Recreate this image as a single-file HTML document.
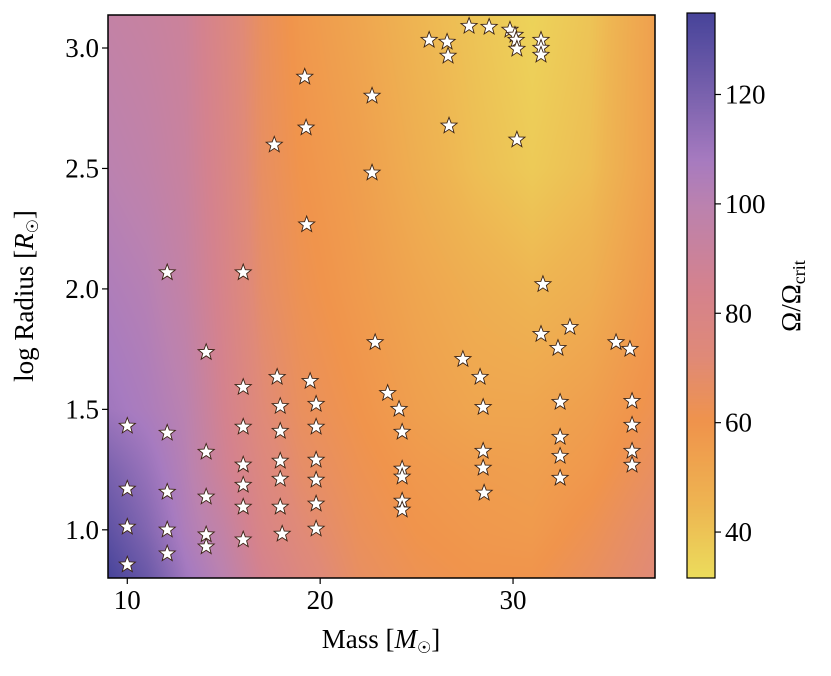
<!DOCTYPE html>
<html><head><meta charset="utf-8"><style>
html,body{margin:0;padding:0;background:#fff;width:831px;height:676px;overflow:hidden}
#wrap{position:relative;width:831px;height:676px}
canvas{position:absolute}
svg{position:absolute;left:0;top:0}
text{font-family:"Liberation Serif",serif;fill:#000}
</style></head><body>
<div id="wrap">
<canvas id="bg" width="547" height="563" style="left:108px;top:15px"></canvas>
<canvas id="cb" width="28" height="565" style="left:687px;top:13px"></canvas>
<svg id="svg" width="831" height="676"></svg>
</div>
<script>
// ---- data ----
const gridMass = [9, 11, 13, 15, 17, 19, 22, 25, 28, 31, 34, 37.4];
const gridLogR = [0.8, 1.0, 1.25, 1.5, 2.0, 2.5, 3.14];
// rows correspond to gridLogR, columns to gridMass
const gridOmega = [
 [135,125,110,100,85,76,66,62,60,60,65,72],
 [128,118,105, 95,80,72,64,60,58,57,62,70],
 [120,112,102, 88,76,68,62,58,56,55,58,66],
 [110,106,100, 85,72,65,60,55,52,52,55,62],
 [105,102, 95, 82,68,62,57,52,48,45,48,58],
 [100, 97, 92, 80,66,60,55,48,42,38,42,55],
 [ 95, 93, 90, 78,65,58,52,45,40,35,40,55]
];
const starMass = [10,10,10,10, 12.07,12.07,12.07,12.07,12.07, 14.09,14.09,14.09,14.09,14.09,
 16.01,16.01,16.01,16.01,16.01,16.01,16.01, 18.03,17.93,17.93,17.93,17.93,17.93,17.77,17.62,19.2,19.27,19.3,
 19.79,19.79,19.79,19.79,19.79,19.79,19.48, 22.69,22.69,22.85,23.5,24.09,24.25,24.25,24.25,24.25,24.25,
 25.65,26.58,26.63,26.68,27.4,27.72,28.29,28.45,28.45,28.45,28.5,28.76,29.84,30.1,30.16,30.2,30.2,
 31.45,31.45,31.45,31.55,31.45,32.33,32.95,32.44,32.44,32.44,32.44,35.34,36.06,36.17,36.17,36.17,36.17];
const starLogR = [0.855,1.012,1.17,1.431, 0.901,1.0,1.157,1.402,2.068, 0.93,0.98,1.137,1.323,1.737,
 0.959,1.095,1.186,1.27,1.427,1.592,2.068, 0.983,1.095,1.211,1.286,1.41,1.513,1.634,2.598,2.88,2.669,2.267,
 1.004,1.108,1.207,1.29,1.427,1.522,1.617, 2.801,2.482,1.778,1.567,1.501,1.406,1.253,1.22,1.12,1.083,
 3.033,3.025,2.967,2.677,1.708,3.091,1.634,1.509,1.327,1.257,1.153,3.087,3.075,3.054,3.033,2.996,2.619,
 3.033,3.0,2.971,2.019,1.812,1.754,1.841,1.53,1.385,1.306,1.215,1.778,1.75,1.534,1.435,1.327,1.269];
const xTicks = [10, 20, 30];
const yTicks = [1.0, 1.5, 2.0, 2.5, 3.0];
const cbTicks = [40, 60, 80, 100, 120];

// ---- scales ----
const X0=108, X1=655, Y0=15, Y1=578;
const xMin=9.0, xMax=37.36, yMin=0.8, yMax=3.137;
const cbMin=31.6, cbMax=134.9, CB0=13, CB1=578, CBX=687, CBW=28;
const xs = m => X0 + (m-xMin)/(xMax-xMin)*(X1-X0);
const ys = r => Y1 - (r-yMin)/(yMax-yMin)*(Y1-Y0);
const cbs = v => CB1 - (v-cbMin)/(cbMax-cbMin)*(CB1-CB0);

const cmapStops = [[32,[236,220,92]],[45,[238,181,82]],[60,[240,148,76]],[72,[224,138,120]],[85,[212,130,143]],[100,[187,130,176]],[108,[167,123,192]],[120,[122,98,174]],[135,[71,68,154]]];
function cmap(v){
  if(v<=cmapStops[0][0]) return cmapStops[0][1];
  for(let i=1;i<cmapStops.length;i++){
    if(v<=cmapStops[i][0]){const a=cmapStops[i-1],b=cmapStops[i];const t=(v-a[0])/(b[0]-a[0]);
      return a[1].map((c,k)=>c+(b[1][k]-c)*t);}
  }
  return cmapStops[cmapStops.length-1][1];
}
function seg(arr,v){let i=0;while(i<arr.length-2&&v>arr[i+1])i++;let t=(v-arr[i])/(arr[i+1]-arr[i]);t=Math.max(0,Math.min(1,t));return [i,t];}
function field(m,r){
  const [i,tx]=seg(gridMass,m),[j,ty]=seg(gridLogR,r);
  const a=gridOmega[j][i],b=gridOmega[j][i+1],c=gridOmega[j+1][i],d=gridOmega[j+1][i+1];
  return (a*(1-tx)+b*tx)*(1-ty)+(c*(1-tx)+d*tx)*ty;
}
(function(){
  const cv=document.getElementById('bg'),ctx=cv.getContext('2d');
  const W=cv.width,H=cv.height,img=ctx.createImageData(W,H);
  for(let py=0;py<H;py++){const r=yMax-(py+0.5)/H*(yMax-yMin);
    for(let px=0;px<W;px++){const m=xMin+(px+0.5)/W*(xMax-xMin);
      const c=cmap(field(m,r));const k=(py*W+px)*4;
      img.data[k]=c[0];img.data[k+1]=c[1];img.data[k+2]=c[2];img.data[k+3]=255;}}
  ctx.putImageData(img,0,0);
  const cc=document.getElementById('cb'),c2=cc.getContext('2d');
  for(let py=0;py<cc.height;py++){const v=cbMax-(py+0.5)/cc.height*(cbMax-cbMin);const c=cmap(v);
    c2.fillStyle=`rgb(${c[0]|0},${c[1]|0},${c[2]|0})`;c2.fillRect(0,py,cc.width,1);}
})();

const NS='http://www.w3.org/2000/svg',svg=document.getElementById('svg');
function mk(tag,attrs,parent){const e=document.createElementNS(NS,tag);for(const k in attrs)e.setAttribute(k,attrs[k]);(parent||svg).appendChild(e);return e;}

const gS=mk('g',{});


function starPath(cx,cy,R){const r=R*0.42;let d='';for(let i=0;i<10;i++){const a=-Math.PI/2+i*Math.PI/5;const rr=i%2?r:R;d+=(i?'L':'M')+(cx+rr*Math.cos(a)).toFixed(2)+','+(cy+rr*Math.sin(a)).toFixed(2);}return d+'Z';}
for(let i=0;i<starMass.length;i++){
  const p=mk('path',{d:starPath(xs(starMass[i]),ys(starLogR[i]),8.5),fill:'#fff',stroke:'#3b2314','stroke-width':'0.9'},gS);
  
  
}
const fr=mk('rect',{x:X0,y:Y0,width:X1-X0,height:Y1-Y0,fill:'none',stroke:'#000','stroke-width':1.5});


const cbf=mk('rect',{x:CBX,y:CB0,width:CBW,height:CB1-CB0,fill:'none',stroke:'#000','stroke-width':1.2});


xTicks.forEach(t=>{const x=xs(t);
  mk('line',{x1:x,y1:Y1,x2:x,y2:Y1+6,stroke:'#000','stroke-width':1.2});
  const tx=mk('text',{x:x,y:Y1+31,'text-anchor':'middle','font-size':27});tx.textContent=t;
  
  
});
yTicks.forEach(t=>{const y=ys(t);
  mk('line',{x1:X0-6,y1:y,x2:X0,y2:y,stroke:'#000','stroke-width':1.2});
  const tx=mk('text',{x:X0-9,y:y+9,'text-anchor':'end','font-size':27});tx.textContent=t.toFixed(1);
  
  
});
cbTicks.forEach(t=>{const y=cbs(t);
  mk('line',{x1:CBX+CBW,y1:y,x2:CBX+CBW+6,y2:y,stroke:'#000','stroke-width':1.2});
  const tx=mk('text',{x:CBX+CBW+10,y:y+9,'font-size':27});tx.textContent=t;
  
  
});
</script>
<svg width="831" height="676" style="position:absolute;left:0;top:0;pointer-events:none">
<text x="381" y="648" text-anchor="middle" font-size="27">Mass [<tspan font-style="italic">M</tspan><tspan font-size="16" dy="5">☉</tspan><tspan dy="-5">]</tspan></text>
<text transform="translate(33,296) rotate(-90)" text-anchor="middle" font-size="27">log Radius [<tspan font-style="italic">R</tspan><tspan font-size="16" dy="5">☉</tspan><tspan dy="-5">]</tspan></text>
<text transform="translate(800,296) rotate(-90)" text-anchor="middle" font-size="27">Ω/Ω<tspan font-size="18" dy="5">crit</tspan></text>
</svg>
</body></html>
